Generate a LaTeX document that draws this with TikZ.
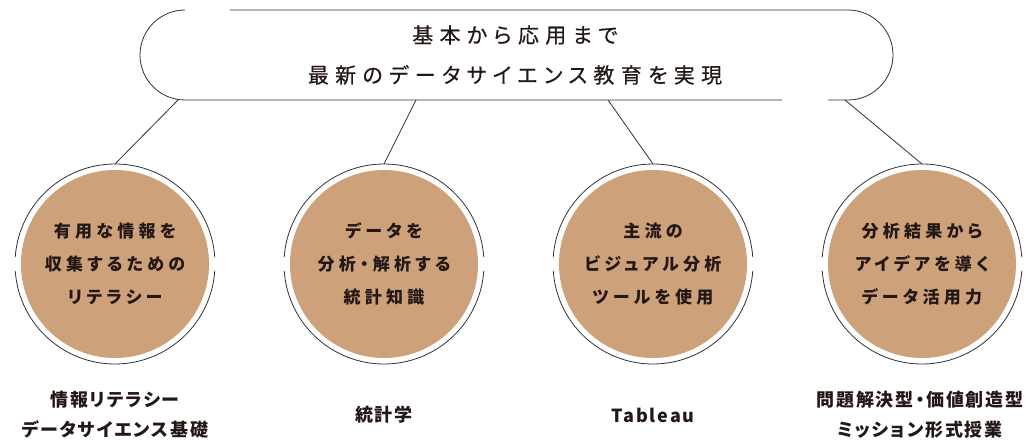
\documentclass[tikz,border=0pt]{standalone}
\usepackage{fontspec}
\newfontfamily\topfont[RawFeature=+palt,LetterSpace=30,FakeBold=0.4]{Noto Sans CJK JP}
\newfontfamily\circfont[RawFeature=+palt,LetterSpace=25]{Noto Sans CJK JP}
\newfontfamily\labfont[RawFeature=+palt,LetterSpace=10]{Noto Sans CJK JP}
\definecolor{kraft}{RGB}{205,161,121}
\definecolor{ink}{RGB}{35,24,21}
\definecolor{linec}{RGB}{50,50,50}
\tikzset{
  lin/.style={draw=linec, line width=0.8pt},
  outer/.style={circle, minimum size=200pt, inner sep=0pt, outer sep=0pt},
  disc/.style={circle, minimum size=188pt, inner sep=0pt, outer sep=0pt, fill=kraft,
    text=ink, align=center, font=\circfont\bfseries\fontsize{17}{33}\selectfont},
  titletext/.style={text=ink, align=center, font=\topfont\fontsize{21}{40}\selectfont},
  lab/.style={text=ink, align=center, font=\labfont\bfseries\fontsize{18}{30}\selectfont}
}
\begin{document}
\begin{tikzpicture}[x=1pt,y=1pt]
\useasboundingbox (0,0) rectangle (1030,440);
\fill[white] (0,0) rectangle (1030,440);

% title box
\node[titletext] (title) at (515,385) {基本から応用まで\\最新のデータサイエンス教育を実現};
\draw[lin] (230,430) -- (848,430) arc[start angle=90,end angle=-90,radius=45] -- (828,340);
\draw[lin] (782,340) -- (185,340) arc[start angle=270,end angle=90,radius=45];

% connector start points on the box
\coordinate (s1) at (178,340);
\coordinate (s2) at (416,340);
\coordinate (s3) at (608,340);
\coordinate (s4) at (845,340);

% circles
\foreach \i/\x in {1/115,2/384,3/653,4/922}{
  \node[outer] (o\i) at (\x,176) {};
  \draw[lin] (o\i.4) arc[start angle=4,end angle=176,radius=100];
  \draw[lin] (o\i.184) arc[start angle=184,end angle=356,radius=100];
}
\node[disc] (c1) at (o1) {有用な情報を\\収集するための\\リテラシー};
\node[disc] (c2) at (o2) {データを\\分析・解析する\\統計知識};
\node[disc] (c3) at (o3) {主流の\\ビジュアル分析\\ツールを使用};
\node[disc] (c4) at (o4) {分析結果から\\アイデアを導く\\データ活用力};

% connectors
\draw[lin] (s1) -- (o1.north);
\draw[lin] (s2) -- (o2.north);
\draw[lin] (s3) -- (o3.north);
\draw[lin] (s4) -- (o4.north);

% bottom labels
\node[lab] (b1) at (115,25) {情報リテラシー\\データサイエンス基礎};
\node[lab] (b2) at (384,25) {統計学};
\node[lab] (b3) at (653,25) {Tableau};
\node[lab] (b4) at (920,25) {問題解決型・価値創造型\\ミッション形式授業};
\end{tikzpicture}
\end{document}
